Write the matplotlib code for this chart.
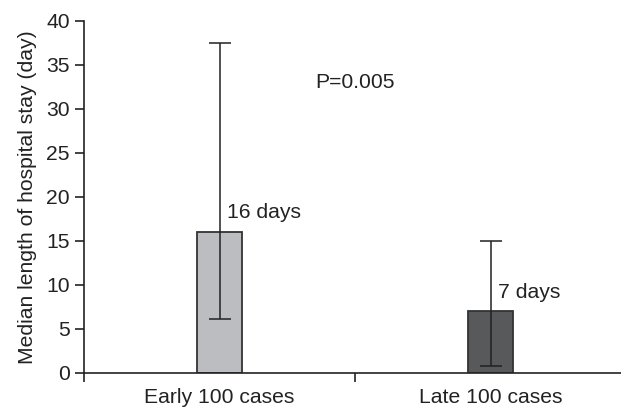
import matplotlib
matplotlib.use("Agg")
import matplotlib.pyplot as plt

categories = ["Early 100 cases", "Late 100 cases"]
medians = [16, 7]
err_low = [6.1, 0.8]
err_high = [37.5, 15.0]
bar_labels = ["16 days", "7 days"]
p_text = "P=0.005"
colors = ["#bcbdc0", "#58595b"]

plt.rcParams['font.family'] = ['Liberation Sans', 'DejaVu Sans']
FS = 15.2

fig = plt.figure(figsize=(6.21, 4.07), dpi=100)
ax = fig.add_axes([84/621, 1-373/407, 1-84/621, (373-21)/407])

x = list(range(len(categories)))
ax.bar(x, medians, width=0.167, color=colors, edgecolor="#333333", linewidth=1.3, zorder=2)
yerr = [[m - lo for m, lo in zip(medians, err_low)], [hi - m for m, hi in zip(medians, err_high)]]
ax.errorbar(x, medians, yerr=yerr, fmt="none", ecolor="#222222", elinewidth=1.1, capsize=8, capthick=1.1, zorder=3)

for xi, m, lab in zip(x, medians, bar_labels):
    ax.text(xi + 0.028, m + 2.2, lab, fontsize=FS, color="#222222", va="center", ha="left")
ax.text(0.352, 33.0, p_text, fontsize=FS, color="#222222", va="center", ha="left")

ax.set_xlim(-0.5, 1.48)
ax.set_ylim(0, 40)
ax.set_yticks(range(0, 41, 5))
ax.set_xticks(x)
ax.set_xticklabels(categories)
ax.set_xticks([-0.5, 0.5], minor=True)
ax.tick_params(axis='x', which='major', length=0, labelsize=FS, pad=11, colors="#222222")
ax.tick_params(axis='x', which='minor', length=6.5, width=1.2, direction='out', color="#222222")
ax.tick_params(axis='y', length=6.5, width=1.2, direction='out', labelsize=FS, colors="#222222", pad=3.6)
ax.set_ylabel("Median length of hospital stay (day)", fontsize=FS, color="#222222", labelpad=7)

for s in ["top", "right"]:
    ax.spines[s].set_visible(False)
for s in ["left", "bottom"]:
    ax.spines[s].set_linewidth(1.2)
    ax.spines[s].set_color("#222222")

fig.savefig("out.png", dpi=100)
